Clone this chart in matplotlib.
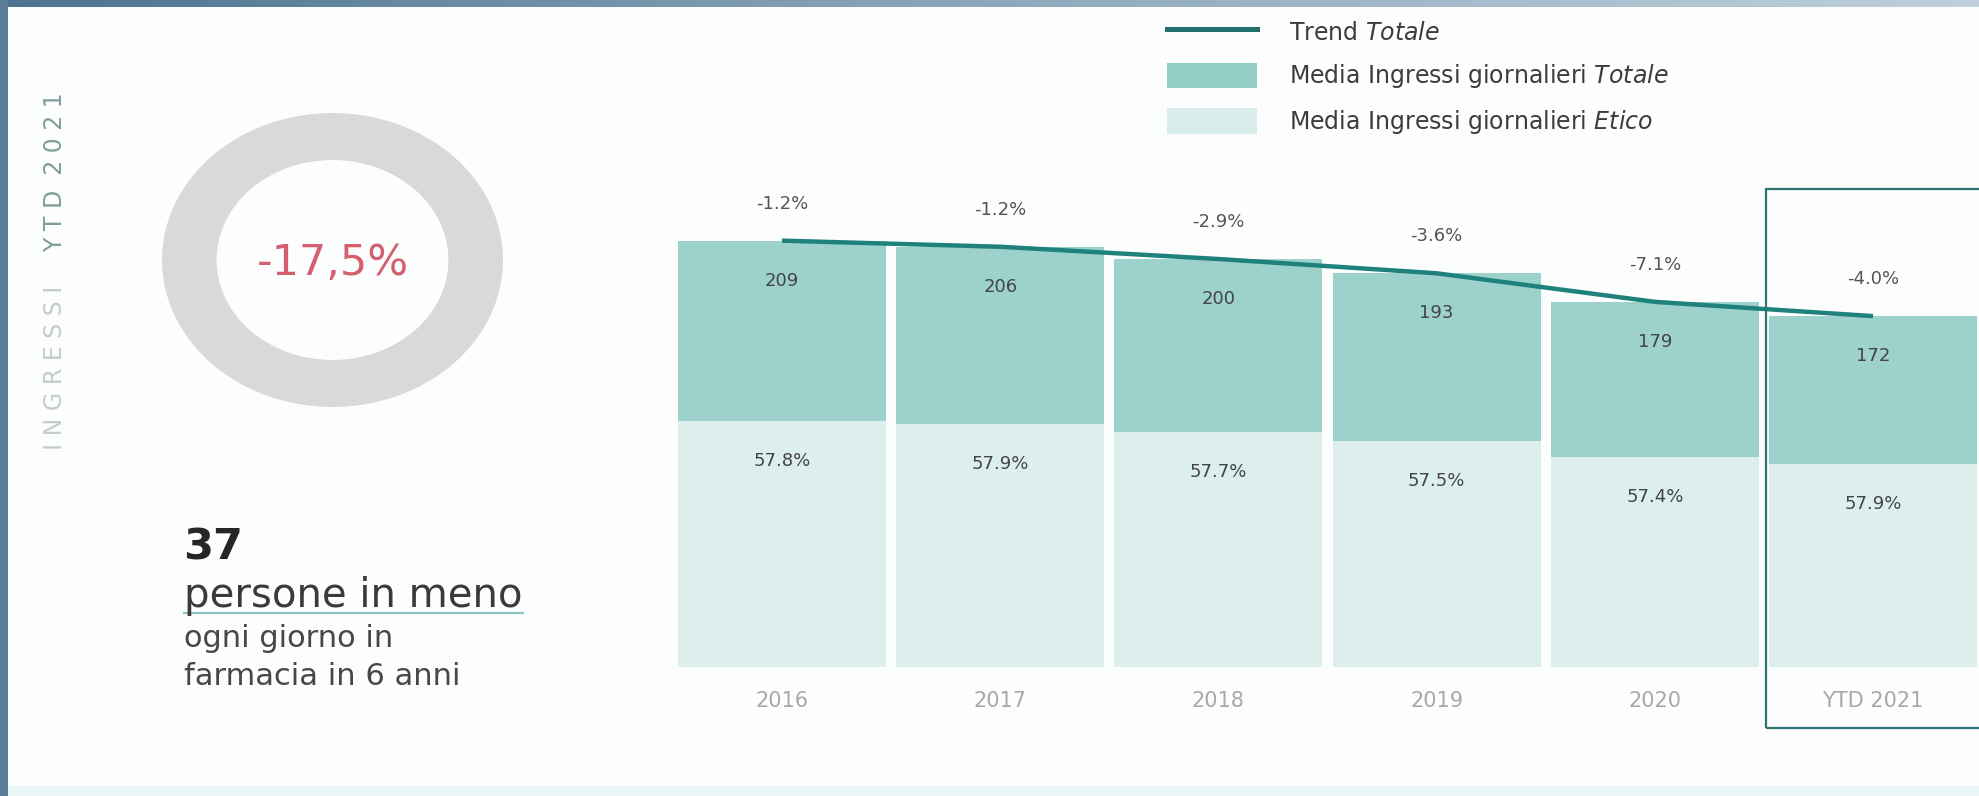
import numpy as np
import matplotlib.pyplot as plt
from matplotlib.colors import LinearSegmentedColormap
from matplotlib.lines import Line2D
from matplotlib.patches import Patch, Rectangle

# --- Dati ingressi giornalieri ---
ANNI = ['2016', '2017', '2018', '2019', '2020', 'YTD 2021']
TOTALE = [209, 206, 200, 193, 179, 172]
QUOTA_ETICO = [57.8, 57.9, 57.7, 57.5, 57.4, 57.9]
VAR_TOTALE = [-1.2, -1.2, -2.9, -3.6, -7.1, -4.0]
VAR_PERIODO = '-17,5%'

W, H = 1979, 796

C_TOTALE = '#9dd1cb'
C_ETICO = '#dcefed'
C_TREND = '#1f817c'

plt.rcParams['font.family'] = 'DejaVu Sans'

fig = plt.figure(figsize=(W / 100, H / 100), dpi=100, facecolor='#fcfefe')

# --- Sfondo e cornice (coordinate in pixel) ---
bg = fig.add_axes([0, 0, 1, 1], zorder=-1)
bar_cmap = LinearSegmentedColormap.from_list('cornice', ['#4c7390', '#8ea8bb', '#bfd0dc'])
bg.imshow(np.linspace(0, 1, 256)[None, :], cmap=bar_cmap, extent=(0, W, 7, 0), aspect='auto')
bg.add_patch(Rectangle((0, 0), 8, H, color='#5a7e98', lw=0))
bg.add_patch(Rectangle((8, 786), W, 10, color='#e9f5f7', lw=0))
bg.set_xlim(0, W)
bg.set_ylim(H, 0)
bg.axis('off')

# --- Pannello sinistro ---
bg.text(55, 450, 'I N G R E S S I', rotation=90, ha='center', va='bottom',
        fontsize=17, color='#c6cbcb')
bg.text(55, 92, 'Y T D  2 0 2 1', rotation=90, ha='center', va='top',
        fontsize=17, color='#7e9d9b')

bg.text(183, 560, str(TOTALE[0] - TOTALE[-1]), fontsize=31, fontweight='bold',
        color='#262626', va='baseline')
t_meno = bg.text(184, 607, 'persone in meno', fontsize=29, color='#3a3a3a', va='baseline')
bg.text(184, 647, 'ogni giorno in', fontsize=22, color='#474747', va='baseline')
bg.text(184, 685, 'farmacia in 6 anni', fontsize=22, color='#474747', va='baseline')

# sottolineatura larga quanto il testo
ext = t_meno.get_window_extent(renderer=fig.canvas.get_renderer())
bg.plot([ext.x0, ext.x1], [613, 613], color='#8cc5c1', lw=1.6)

# anello con la variazione complessiva
dax = fig.add_axes([162 / W, (H - 407) / H, 341 / W, 294 / H])
dax.pie([1], radius=1, colors=['#d9d9d9'], wedgeprops=dict(width=0.32, linewidth=0),
        startangle=90)
dax.set_aspect('auto')
dax.set_xlim(-1, 1)
dax.set_ylim(-1, 1)
dax.text(0, -0.02, VAR_PERIODO, ha='center', va='center', fontsize=31, color='#d4606f')

# --- Grafico a barre ---
ax = fig.add_axes([600 / W, (H - 667) / H, (W - 600) / W, (667 - 150) / H])
x = np.arange(len(ANNI))
totale = np.array(TOTALE)
etico = totale * np.array(QUOTA_ETICO) / 100

ax.bar(x, totale, width=0.953, color=C_TOTALE, zorder=2)
ax.bar(x, etico, width=0.953, color=C_ETICO, zorder=3)
ax.plot(x, totale, color=C_TREND, lw=3.2, solid_capstyle='butt', zorder=4)

for i in x:
    ax.annotate(f'{VAR_TOTALE[i]:.1f}%', (i, totale[i]), xytext=(0, 37),
                textcoords='offset pixels', ha='center', va='center',
                fontsize=13, color='#555555')
    ax.annotate(str(totale[i]), (i, totale[i]), xytext=(0, -40),
                textcoords='offset pixels', ha='center', va='center',
                fontsize=13, color='#444444', zorder=5)
    ax.annotate(f'{QUOTA_ETICO[i]:.1f}%', (i, etico[i]), xytext=(0, -40),
                textcoords='offset pixels', ha='center', va='center',
                fontsize=13, color='#444444', zorder=5)

# riquadro evidenziato sull'anno in corso
ax.add_patch(Rectangle((4.51, -30), 1.3, 264.3, fill=False, ec='#2f7473', lw=1.6,
                       clip_on=False, zorder=6))

ax.set_xlim((600 - 782) / 218.2, (W - 782) / 218.2)
ax.set_ylim(0, (667 - 150) / 2.04)
ax.set_xticks(x, ANNI)
ax.tick_params(axis='x', length=0, pad=17, labelsize=15, labelcolor='#a8a8a8')
ax.set_yticks([])
for s in ax.spines.values():
    s.set_visible(False)
ax.patch.set_visible(False)

handles = [Line2D([], [], color='#22706d', lw=3.6),
           Patch(fc='#95cdc7'),
           Patch(fc='#d9eeec')]
labels = [r'Trend $\it{Totale}$',
          r'Media Ingressi giornalieri $\it{Totale}$',
          r'Media Ingressi giornalieri $\it{Etico}$']
ax.legend(handles, labels, loc='upper left', bbox_to_anchor=(1167 / W, (H - 19) / H),
          bbox_transform=fig.transFigure, frameon=False, fontsize=17,
          handlelength=3.8, handleheight=1.27, labelspacing=0.75,
          handletextpad=1.35, borderpad=0, borderaxespad=0, labelcolor='#3c3c3c')

fig.savefig('out.png', dpi=100, facecolor=fig.get_facecolor())
